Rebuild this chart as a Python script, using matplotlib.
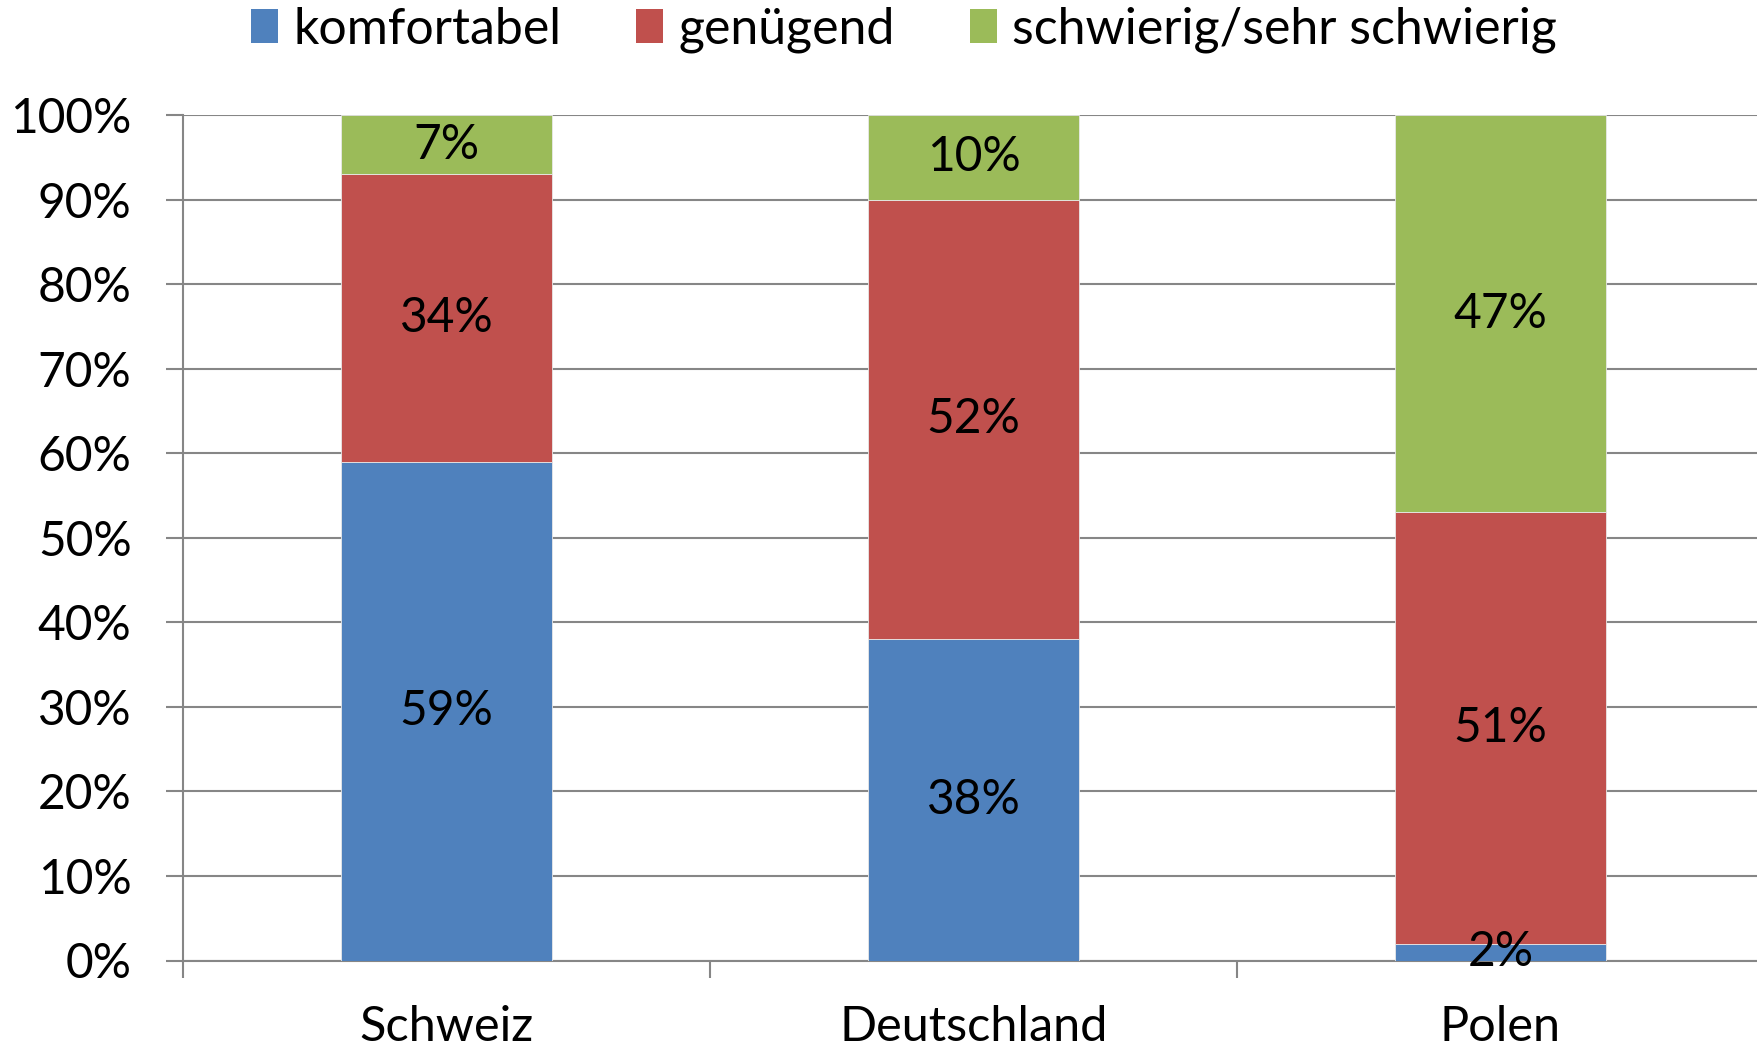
import matplotlib.pyplot as plt
import numpy as np
from matplotlib.patches import Patch

# Daten
laender = ["Schweiz", "Deutschland", "Polen"]
kategorien = ["komfortabel", "genügend", "schwierig/sehr schwierig"]
komfortabel = [59, 38, 2]
genuegend = [34, 52, 51]
schwierig = [7, 10, 47]
farben = ["#4F81BD", "#C0504D", "#9BBB59"]

plt.rcParams["font.family"] = ["Lato", "DejaVu Sans"]
fs = 34.5

fig = plt.figure(figsize=(17.58, 10.51), dpi=100)
W, H = 1758, 1051
ax = fig.add_axes([183 / W, (H - 960.5) / H, (1764 - 183) / W, (960.5 - 115) / H])

x = np.arange(len(laender))
serien = [komfortabel, genuegend, schwierig]
unten = np.zeros(len(laender))
for werte, farbe in zip(serien, farben):
    werte = np.array(werte, dtype=float)
    ax.bar(x, werte, 0.4, bottom=unten, color=farbe, edgecolor="#e8e8e8",
           linewidth=0.6, zorder=3)
    for xi, b, w in zip(x, unten, werte):
        ax.text(xi, b + w / 2, f"{int(w)}%", ha="center", va="center",
                fontsize=fs, color="black", zorder=4)
    unten += werte

ax.set_xlim(-0.5, 2.5)
ax.set_ylim(0, 100)
ax.set_yticks(np.arange(0, 101, 10))
ax.set_yticklabels([f"{v}%" for v in range(0, 101, 10)], fontsize=fs)
ax.yaxis.grid(True, color="#868686", linewidth=1.5, zorder=0)
ax.tick_params(axis="y", length=12, width=1.5, color="#868686", pad=25)

ax.set_xticks(x)
ax.set_xticklabels(laender, fontsize=35)
ax.set_xticks([-0.5, 0.5, 1.5], minor=True)
ax.tick_params(axis="x", which="major", length=0, pad=32)
ax.tick_params(axis="x", which="minor", length=12, width=1.5, color="#868686")

for s in ["top", "right"]:
    ax.spines[s].set_visible(False)
for s in ["left", "bottom"]:
    ax.spines[s].set_color("#868686")
    ax.spines[s].set_linewidth(1.5)

handles = [Patch(facecolor=f, edgecolor="none") for f in farben]
fig.legend(handles, kategorien, loc="center", bbox_to_anchor=(904 / W, 1 - 30 / H),
           ncol=3, frameon=False, fontsize=36, handlelength=0.54, handleheight=0.67,
           handletextpad=0.31, columnspacing=1.5)

fig.savefig("out.png", dpi=100)
